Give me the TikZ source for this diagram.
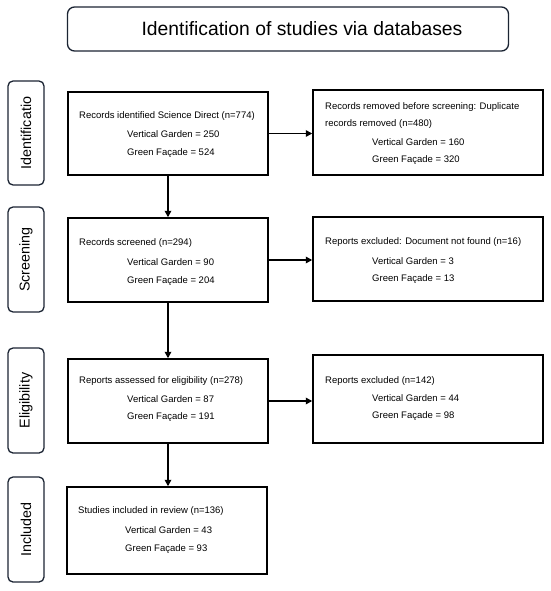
\documentclass[tikz,border=0pt]{standalone}
\usepackage{fontspec}
\setmainfont{Liberation Sans}
\usetikzlibrary{arrows.meta}
\definecolor{navy}{HTML}{1B2433}
\tikzset{
  mainbox/.style={draw=black, line width=1.5pt, rectangle, inner sep=0pt},
  phasebox/.style={draw=navy, line width=1.3pt, rounded corners=5pt, inner sep=0pt},
  phasetxt/.style={rotate=90, font=\fontsize{14.3}{16}\selectfont, inner sep=0pt},
  txt/.style={anchor=west, inner sep=0pt, font=\fontsize{9.5}{11}\selectfont},
  arr/.style={line width=1.7pt, -{Triangle[length=6.5pt,width=6.5pt]}}
}
\begin{document}
\begin{tikzpicture}[x=1pt,y=-1pt]
\useasboundingbox (0,0) rectangle (550,591);
% title
\node[phasebox, rounded corners=7pt, minimum width=441pt, minimum height=44pt] (title) at (288,29) {};
\node[inner sep=0pt, font=\fontsize{19.3}{21}\selectfont] (titletxt) at (302,29) {Identification of studies via databases};
% phase labels
\node[phasebox, minimum width=36pt, minimum height=104pt] (p1) at (26,133) {};
\node[phasetxt] (p1t) at (p1.center) {Identificatio};
\node[phasebox, minimum width=36pt, minimum height=105pt] (p2) at (26,259.5) {};
\node[phasetxt] (p2t) at (p2.center) {Screening};
\node[phasebox, minimum width=36pt, minimum height=105pt] (p3) at (26,400.5) {};
\node[phasetxt] (p3t) at (p3.center) {Eligibility};
\node[phasebox, minimum width=36pt, minimum height=105pt] (p4) at (26,529.5) {};
\node[phasetxt] (p4t) at (p4.center) {Included};
% main boxes
\node[mainbox, minimum width=200pt, minimum height=83pt] (b1) at (168,133.5) {};
\node[mainbox, minimum width=200pt, minimum height=84pt] (b2) at (168,260) {};
\node[mainbox, minimum width=200pt, minimum height=84pt] (b3) at (168,401) {};
\node[mainbox, minimum width=200pt, minimum height=87pt] (b4) at (167,530.5) {};
% right boxes
\node[mainbox, minimum width=230pt, minimum height=85pt] (r1) at (428,132.5) {};
\node[mainbox, minimum width=230pt, minimum height=84pt] (r2) at (428,259) {};
\node[mainbox, minimum width=230pt, minimum height=88pt] (r3) at (428,399) {};
% texts
\node[txt] (b1a) at (79,116) {Records identified Science Direct (n=774)};
\node[txt] (b1b) at (127,134) {Vertical Garden = 250};
\node[txt] (b1c) at (127,153) {Green Façade = 524};
\node[txt] (r1a) at (325,107) {Records removed before screening: Duplicate};
\node[txt] (r1b) at (325,124) {records removed (n=480)};
\node[txt] (r1c) at (372,142) {Vertical Garden = 160};
\node[txt] (r1d) at (372,160) {Green Façade = 320};
\node[txt] (b2a) at (79,243) {Records screened (n=294)};
\node[txt] (b2b) at (127,262) {Vertical Garden = 90};
\node[txt] (b2c) at (127,281) {Green Façade = 204};
\node[txt] (r2a) at (325,242) {Reports excluded: Document not found (n=16)};
\node[txt] (r2b) at (372,261) {Vertical Garden = 3};
\node[txt] (r2c) at (372,279) {Green Façade = 13};
\node[txt] (b3a) at (79,381) {Reports assessed for eligibility (n=278)};
\node[txt] (b3b) at (127,399) {Vertical Garden = 87};
\node[txt] (b3c) at (127,417) {Green Façade = 191};
\node[txt] (r3a) at (325,381) {Reports excluded (n=142)};
\node[txt] (r3b) at (372,398) {Vertical Garden = 44};
\node[txt] (r3c) at (372,416) {Green Façade = 98};
\node[txt] (b4a) at (78,511) {Studies included in review (n=136)};
\node[txt] (b4b) at (125,530) {Vertical Garden = 43};
\node[txt] (b4c) at (125,549) {Green Façade = 93};
% arrows
\draw[arr] (b1.east) -- (b1.east -| r1.west);
\draw[arr] (b2.east) -- (b2.east -| r2.west);
\draw[arr] (b3.east) -- (b3.east -| r3.west);
\draw[arr] (b1.south) -- (b2.north);
\draw[arr] (b2.south) -- (b3.north);
\draw[arr] (b3.south) -- (b3.south |- b4.north);
\end{tikzpicture}
\end{document}
